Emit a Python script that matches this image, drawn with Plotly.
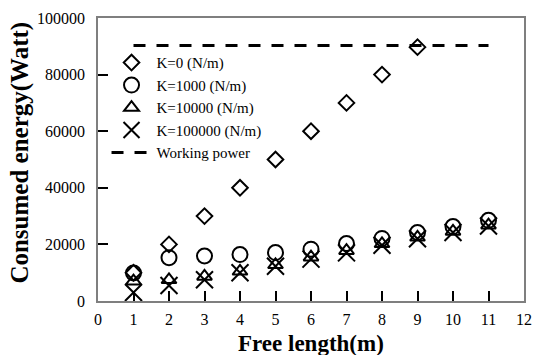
import plotly.graph_objects as go

free_length = [1, 2, 3, 4, 5, 6, 7, 8, 9, 10, 11]
k0_x = [1, 2, 3, 4, 5, 6, 7, 8, 9]
k0 = [10000, 20000, 30000, 40000, 50000, 60000, 70000, 80000, 89700]
k1000 = [9900, 15300, 15900, 16400, 17100, 18300, 20300, 22100, 24200, 26300, 28500]
k10000 = [7000, 7500, 8700, 10500, 12800, 15500, 17800, 20200, 22500, 24600, 26800]
k100000 = [3000, 5500, 7500, 10000, 12300, 14800, 17000, 19700, 22000, 24200, 26500]
power_x = [1, 11]
power = [90300, 90300]

names = ["K=0 (N/m)", "K=1000 (N/m)", "K=10000 (N/m)", "K=100000 (N/m)", "Working power"]
x_ticks = list(range(0, 13))
y_ticks = [0, 20000, 40000, 60000, 80000, 100000]

FONT = "Liberation Serif, Times New Roman, serif"

fig = go.Figure()
fig.add_trace(go.Scatter(x=power_x, y=power, mode="lines", name=names[4],
                         line=dict(color="black", width=3, dash="12px,11px"),
                         legendrank=5))
fig.add_trace(go.Scatter(x=k0_x, y=k0, mode="markers", name=names[0],
                         marker=dict(symbol="diamond-open", size=12, color="black",
                                     line=dict(width=2, color="black")), legendrank=1))
fig.add_trace(go.Scatter(x=free_length, y=k1000, mode="markers", name=names[1],
                         marker=dict(symbol="circle-open", size=15, color="black",
                                     line=dict(width=2, color="black")), legendrank=2))
fig.add_trace(go.Scatter(x=free_length, y=k10000, mode="markers", name=names[2],
                         marker=dict(symbol="triangle-up-open", size=13, color="black",
                                     line=dict(width=2, color="black")), legendrank=3))
fig.add_trace(go.Scatter(x=free_length, y=k100000, mode="markers", name=names[3],
                         marker=dict(symbol="x-thin-open", size=17, color="black",
                                     line=dict(width=2, color="black")), legendrank=4))

fig.update_layout(
    width=542, height=355,
    margin=dict(l=98, r=10, t=15, b=54),
    paper_bgcolor="white", plot_bgcolor="white",
    font=dict(family=FONT, size=16, color="black"),
    showlegend=True,
    legend=dict(x=0.02, y=0.9, xanchor="left", yanchor="top",
                bgcolor="rgba(0,0,0,0)", font=dict(family=FONT, size=15),
                itemwidth=40, tracegroupgap=0),
    xaxis=dict(range=[0, 12], tickvals=x_ticks, ticktext=[str(v) for v in x_ticks],
               ticks="inside", ticklen=10, tickwidth=1.5, tickcolor="black",
               showline=True, linecolor="#7f7f7f", linewidth=1.5, mirror=True,
               showgrid=False, zeroline=False, ticklabelstandoff=3,
               tickfont=dict(family=FONT, size=16)),
    yaxis=dict(range=[0, 100000], tickvals=y_ticks, ticktext=[str(v) for v in y_ticks],
               ticks="inside", ticklen=10, tickwidth=1.5, tickcolor="black",
               showline=True, linecolor="#7f7f7f", linewidth=1.5, mirror=True,
               showgrid=False, zeroline=False, ticklabelstandoff=8,
               tickfont=dict(family=FONT, size=16)),
    annotations=[
        dict(text="<b>Free length(m)</b>", xref="paper", yref="paper",
             x=0.5, y=-0.150, xanchor="center", yanchor="middle", showarrow=False,
             font=dict(family=FONT, size=23)),
        dict(text="<b>Consumed energy(Watt)</b>", xref="paper", yref="paper",
             x=-0.184, y=0.523, xanchor="center", yanchor="middle", showarrow=False,
             textangle=-90, font=dict(family=FONT, size=25)),
    ],
)

fig.write_html("out.html")
